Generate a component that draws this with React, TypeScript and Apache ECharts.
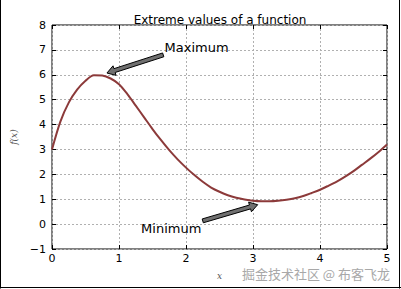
import React, { useEffect, useRef } from "react";
import * as echarts from "echarts";

const xValues = [0, 0.125, 0.25, 0.375, 0.5, 0.625, 0.75, 0.875, 1.0, 1.125, 1.25, 1.375, 1.5, 1.625, 1.75, 1.875, 2.0, 2.125, 2.25, 2.375, 2.5, 2.625, 2.75, 2.875, 3.0, 3.125, 3.25, 3.375, 3.5, 3.625, 3.75, 3.875, 4.0, 4.125, 4.25, 4.375, 4.5, 4.625, 4.75, 4.875, 5.0];
const yValues = [3.0, 4.12, 4.88, 5.4, 5.76, 5.98, 5.97, 5.85, 5.62, 5.22, 4.76, 4.29, 3.82, 3.38, 2.97, 2.6, 2.27, 1.97, 1.7, 1.47, 1.3, 1.16, 1.06, 0.99, 0.94, 0.92, 0.92, 0.94, 0.98, 1.04, 1.13, 1.25, 1.38, 1.54, 1.71, 1.91, 2.13, 2.38, 2.63, 2.9, 3.2];

const xTicks = [0, 1, 2, 3, 4, 5];
const yTicks = [-1, 0, 1, 2, 3, 4, 5, 6, 7, 8];

const annotationLabels = ["Maximum", "Minimum"];
const arrowTails = [[1.66, 6.8], [2.25, 0.13]];
const arrowTips = [[0.82, 6.07], [3.07, 0.78]];
const textAnchors = [[1.68, 7.1], [1.33, -0.19]];

const title = "Extreme values of a function";
const watermark = "掘金技术社区 @ 布客飞龙";

export default function App() {
  const ref = useRef<HTMLDivElement>(null);
  useEffect(() => {
    if (!ref.current) return;
    const chart = echarts.init(ref.current, undefined, { renderer: "svg" });
    const curve = xValues.map((x, i) => [x, yValues[i]]);
    const annData = annotationLabels.map((l, i) => [
      arrowTails[i][0], arrowTails[i][1], arrowTips[i][0], arrowTips[i][1],
      textAnchors[i][0], textAnchors[i][1], l,
    ]);
    const font = "DejaVu Sans";
    const tick = { show: true, inside: true, length: 4, lineStyle: { color: "#000" } };
    chart.setOption({
      animation: false,
      backgroundColor: "#ffffff",
      title: {
        text: title,
        left: 215,
        textAlign: "center",
        top: 9,
        textStyle: { fontFamily: font, fontSize: 12, fontWeight: "normal", color: "#000" },
      },
      grid: { left: 52, right: 14, top: 25, bottom: 40, show: true, borderColor: "#000", borderWidth: 1, backgroundColor: "transparent" },
      xAxis: [
        {
          type: "value", min: xTicks[0], max: xTicks[xTicks.length - 1], interval: 1,
          name: "x", nameLocation: "middle", nameGap: 22,
          nameTextStyle: { fontFamily: "DejaVu Serif", fontStyle: "italic", fontSize: 9, color: "#555" },
          axisLine: { show: false, onZero: false },
          axisTick: tick,
          axisLabel: { fontFamily: font, fontSize: 11, color: "#000", margin: 4 },
          splitLine: { show: true, lineStyle: { color: "#b0b0b0", type: [2, 2], width: 1 } },
        },
        {
          type: "value", position: "top", min: xTicks[0], max: xTicks[xTicks.length - 1], interval: 1,
          axisLine: { show: false, onZero: false }, axisLabel: { show: false }, splitLine: { show: false },
          axisTick: tick,
        },
      ],
      yAxis: [
        {
          type: "value", min: yTicks[0], max: yTicks[yTicks.length - 1], interval: 1,
          name: "f(x)", nameLocation: "middle", nameGap: 30, nameRotate: 90,
          nameTextStyle: { fontFamily: "DejaVu Serif", fontStyle: "italic", fontSize: 9, color: "#555" },
          axisLine: { show: false, onZero: false },
          axisTick: tick,
          axisLabel: { fontFamily: font, fontSize: 11, color: "#000", margin: 6, formatter: (v: number) => String(v).replace("-", "\u2212") },
          splitLine: { show: true, lineStyle: { color: "#b0b0b0", type: [2, 2], width: 1 } },
        },
        {
          type: "value", position: "right", min: yTicks[0], max: yTicks[yTicks.length - 1], interval: 1,
          axisLine: { show: false, onZero: false }, axisLabel: { show: false }, splitLine: { show: false },
          axisTick: tick,
        },
      ],
      series: [
        {
          type: "line",
          data: curve,
          smooth: 0.3,
          showSymbol: false,
          lineStyle: { color: "#8c3a3a", width: 2 },
          z: 3,
        },
        {
          type: "custom",
          data: annData,
          encode: { x: [0, 2], y: [1, 3] },
          z: 5,
          renderItem: (params: any, api: any) => {
            const p0 = api.coord([api.value(0), api.value(1)]);
            const p1 = api.coord([api.value(2), api.value(3)]);
            const pt = api.coord([api.value(4), api.value(5)]);
            const label = annData[params.dataIndex][6] as string;
            const dx = p1[0] - p0[0];
            const dy = p1[1] - p0[1];
            const len = Math.sqrt(dx * dx + dy * dy);
            const ux = dx / len, uy = dy / len;
            const nx = -uy, ny = ux;
            const bw = 2, hw = 5, hl = 8;
            const hb = [p1[0] - ux * hl, p1[1] - uy * hl];
            const pts = [
              [p0[0] + nx * bw, p0[1] + ny * bw],
              [hb[0] + nx * bw, hb[1] + ny * bw],
              [hb[0] + nx * hw, hb[1] + ny * hw],
              [p1[0], p1[1]],
              [hb[0] - nx * hw, hb[1] - ny * hw],
              [hb[0] - nx * bw, hb[1] - ny * bw],
              [p0[0] - nx * bw, p0[1] - ny * bw],
            ];
            return {
              type: "group",
              children: [
                { type: "polygon", shape: { points: pts }, style: { fill: "#707070", stroke: "#000", lineWidth: 1 } },
                {
                  type: "text", x: pt[0], y: pt[1],
                  style: { text: label, fill: "#000", font: `13px "DejaVu Sans"`, textAlign: "left", textVerticalAlign: "middle" },
                },
              ],
            };
          },
        },
      ],
      graphic: [
        { type: "line", shape: { x1: 0.5, y1: 0, x2: 0.5, y2: 288.5 }, style: { stroke: "#000", lineWidth: 1 } },
        { type: "line", shape: { x1: 399.5, y1: 0, x2: 399.5, y2: 288.5 }, style: { stroke: "#000", lineWidth: 1 } },
        { type: "line", shape: { x1: 0, y1: 287.5, x2: 401, y2: 287.5 }, style: { stroke: "#000", lineWidth: 1 } },
        {
          type: "text", right: 11, top: 267,
          style: { text: watermark, fill: "#a8a8a8", font: `13px "Noto Sans CJK SC"` },
        },
      ],
    });
    return () => chart.dispose();
  }, []);
  return <div ref={ref} style={{ position: "fixed", left: 0, top: 0, width: 401, height: 289 }} />;
}
